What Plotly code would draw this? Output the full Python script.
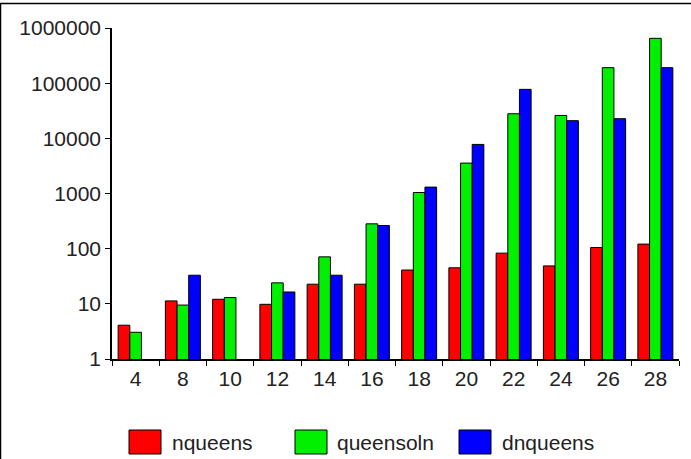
import plotly.graph_objects as go

categories = ["4", "8", "10", "12", "14", "16", "18", "20", "22", "24", "26", "28"]
nqueens = [4.1, 11.3, 12.1, 9.8, 22.7, 22.7, 41, 45, 83, 48.7, 105, 121]
queensoln = [3.05, 9.5, 13, 24, 71, 282, 1043, 3560, 27900, 26000, 191000, 650000]
dnqueens = [None, 33, None, 16.4, 33, 263, 1306, 7760, 77200, 20900, 22700, 191000]
series_names = ["nqueens", "queensoln", "dnqueens"]
series_colors = ["#ff0000", "#00f000", "#0000ff"]
y_tickvals = [1, 10, 100, 1000, 10000, 100000, 1000000]
y_ticktext = ["1", "10", "100", "1000", "10000", "100000", "1000000"]

W, H = 691, 459
L, R, T, B = 112, 12, 28, 100
pw, ph = W - L - R, H - T - B


def px_x(x):
    return (x - L) / pw


def px_y(y):
    return (H - B - y) / ph


FONT = "Liberation Sans, Arial, sans-serif"
TXT = "#222222"

fig = go.Figure()
for name, vals, col in zip(series_names, [nqueens, queensoln, dnqueens], series_colors):
    fig.add_trace(go.Bar(x=categories, y=vals, name=name,
                         marker=dict(color=col, line=dict(color="#000000", width=1))))

shapes = [
    dict(type="line", xref="paper", yref="paper", x0=px_x(0.5), x1=px_x(0.5), y0=px_y(3), y1=px_y(H),
         line=dict(color="#000", width=1.5)),
    dict(type="line", xref="paper", yref="paper", x0=px_x(0), x1=px_x(W), y0=px_y(3.5), y1=px_y(3.5),
         line=dict(color="#000", width=1.5)),
]
annotations = []
legend_box_x = [129, 295, 459]
legend_text_x = [170, 335, 500]
for name, col, bx, tx in zip(series_names, series_colors, legend_box_x, legend_text_x):
    shapes.append(dict(type="rect", xref="paper", yref="paper",
                       x0=px_x(bx), x1=px_x(bx + 32), y0=px_y(430), y1=px_y(454),
                       fillcolor=col, line=dict(color="#000", width=1)))
    annotations.append(dict(xref="paper", yref="paper", x=px_x(tx), y=px_y(442),
                            xanchor="left", yanchor="middle", text=name, showarrow=False,
                            font=dict(family=FONT, size=21, color=TXT)))

fig.update_layout(
    width=W, height=H, autosize=False,
    margin=dict(l=L, r=R, t=T, b=B, pad=0),
    paper_bgcolor="white", plot_bgcolor="white",
    barmode="group", bargap=0.26, bargroupgap=0,
    showlegend=False,
    font=dict(family=FONT, size=21, color=TXT),
    shapes=shapes, annotations=annotations,
)
fig.update_xaxes(type="category", showline=True, linecolor="#000", linewidth=1.5,
                 ticks="outside", tickson="boundaries", ticklen=5, tickcolor="#000",
                 showgrid=False, zeroline=False,
                 tickfont=dict(family=FONT, size=21, color=TXT))
fig.update_yaxes(type="log", range=[0, 6], showline=True, linecolor="#000", linewidth=1.5,
                 ticks="outside", ticklen=5, tickcolor="#000",
                 tickmode="array", tickvals=y_tickvals, ticktext=y_ticktext,
                 showgrid=False, zeroline=False,
                 tickfont=dict(family=FONT, size=21, color=TXT))

fig.write_html("out.html", config={"displayModeBar": False},
               post_script="document.body.style.margin='0';")
